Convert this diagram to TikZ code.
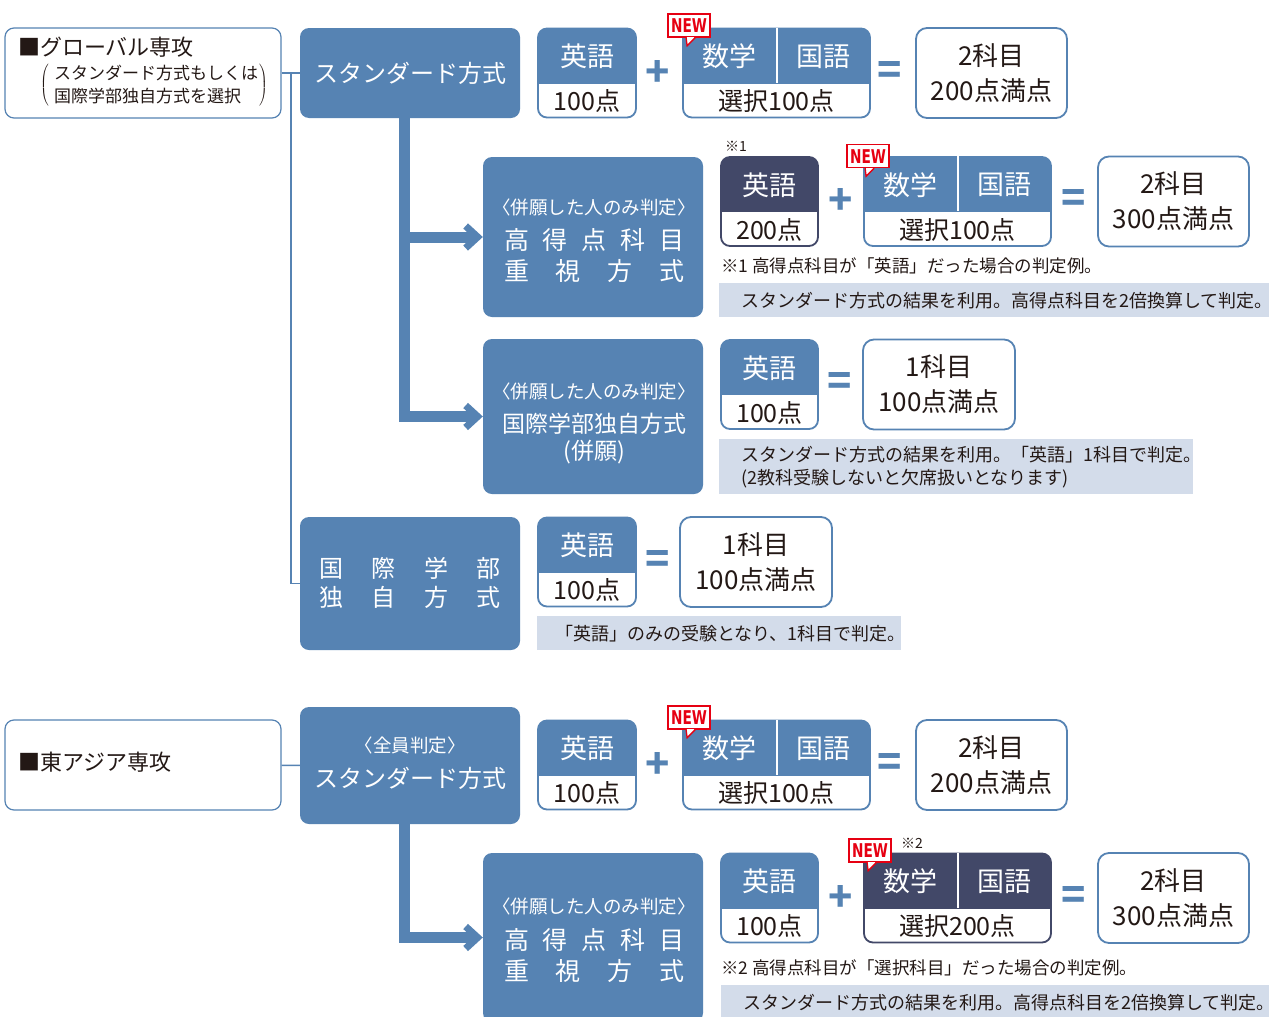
\documentclass[tikz,border=0pt]{standalone}
\usepackage{fontspec}
\usepackage{graphicx}
\setmainfont{Noto Sans CJK JP}
\newfontfamily\tagfont{DejaVu Sans Condensed}
\usetikzlibrary{arrows.meta,positioning}
\definecolor{boxblue}{HTML}{5683B3}
\definecolor{boxnavy}{HTML}{424868}
\definecolor{bandgray}{HTML}{D3DCEA}
\definecolor{inkdark}{HTML}{231815}
\definecolor{newred}{HTML}{E60012}
\begin{document}
\begin{tikzpicture}[x=1pt, y=-1pt,
        labelbox/.style={rectangle, rounded corners=9pt, draw=boxblue, line width=1.2pt, fill=white, minimum width=276pt, minimum height=90pt},
        labeltext/.style={anchor=west, inner sep=0pt, text=inkdark, font=\fontsize{22}{22}\selectfont},
        paren/.style={inner sep=0pt, text=inkdark},
        method/.style={rectangle, rounded corners=9pt, fill=boxblue, text=white, minimum width=220pt},
        tagline/.style={inner sep=0pt, text=white, font=\fontsize{18.5}{18.5}\selectfont},
        bigline/.style={inner sep=0pt, text=white, font=\fontsize{25}{25}\selectfont},
        score/.style={rectangle, rounded corners=9pt, draw=#1, line width=1.8pt, fill=white, minimum height=89pt,
          path picture={\fill[#1, sharp corners] (path picture bounding box.north west) rectangle ([yshift=-55pt]path picture bounding box.north east);}},
        subj/.style={inner sep=0pt, text=white, font=\fontsize{27}{27}\selectfont},
        pts/.style={inner sep=0pt, text=inkdark, font=\fontsize{25}{25}\selectfont},
        total/.style={rectangle, rounded corners=11pt, draw=boxblue, line width=1.8pt, fill=white, minimum width=151pt, minimum height=90pt, align=center, text=inkdark, font=\fontsize{26}{35}\selectfont},
        op/.style={inner sep=0pt, text=boxblue, font=\bfseries\fontsize{40}{40}\selectfont},
        divider/.style={draw=white, line width=2pt},
        newtag/.style={rectangle, draw=newred, line width=1.3pt, fill=white, text=newred, inner sep=0pt, minimum width=42pt, minimum height=23pt, font=\tagfont\bfseries\fontsize{19}{19}\selectfont},
        newtail/.style={draw=newred, fill=white, line width=1.3pt},
        band/.style={anchor=north west, fill=bandgray, inner xsep=22pt, inner ysep=0pt, align=left, text=inkdark, font=\fontsize{18}{23}\selectfont},
        note/.style={anchor=west, inner sep=0pt, text=inkdark, font=\fontsize{17.5}{17.5}\selectfont},
        refmark/.style={inner sep=0pt, text=inkdark, font=\fontsize{14}{14}\selectfont},
        link/.style={draw=boxblue, line width=1.5pt},
        trunk/.style={draw=boxblue, line width=11pt, -{Straight Barb[length=12pt, width=22pt, line width=7pt]}},
      ]
      \useasboundingbox (0,0) rectangle (1269,1017);
      \fill[white] (0,0) rectangle (1269,1017);

      %Nodes: global studies
      \node[labelbox] (glob) at (143,73) {};
      \node[labeltext] at (18,47) {■グローバル専攻};
      \node[paren] (lp) at (45,85) {$\left(\vrule height 19pt depth 19pt width 0pt\right.$};
      \node[labeltext, font=\fontsize{17}{23}\selectfont, align=left] (sel) at (54,85) {スタンダード方式もしくは\\国際学部独自方式を選択};
      \node[paren] (rp) at (263,85) {$\left.\vrule height 19pt depth 19pt width 0pt\right)$};

      \node[method, minimum height=90pt, font=\fontsize{24}{24}\selectfont] (std1) at (410,73) {スタンダード方式};

      \node[method, minimum height=160pt] (hi1) at (593,237) {};
      \node[tagline] at (594,207) {〈併願した人のみ判定〉};
      \node[bigline] at (594,240) {\makebox[180pt][s]{高\hfill 得\hfill 点\hfill 科\hfill 目}};
      \node[bigline] at (594,271) {\makebox[180pt][s]{重\hfill 視\hfill 方\hfill 式}};

      \node[method, minimum height=155pt] (kd1) at (593,416.5) {};
      \node[tagline] at (594,391) {〈併願した人のみ判定〉};
      \node[bigline, font=\fontsize{23}{23}\selectfont] at (594,424) {国際学部独自方式};
      \node[bigline, font=\fontsize{23}{23}\selectfont] at (594,452) {(併願)};

      \node[method, minimum height=133pt] (kk1) at (410,583.5) {};
      \node[bigline, font=\fontsize{24}{24}\selectfont] at (410,568) {\makebox[182pt][s]{国\hfill 際\hfill 学\hfill 部}};
      \node[bigline, font=\fontsize{24}{24}\selectfont] at (410,597) {\makebox[182pt][s]{独\hfill 自\hfill 方\hfill 式}};

      % row: standard
      \node[score=boxblue, minimum width=98pt] (e1) at (587,73) {};
      \node[subj] at ([yshift=-29pt]e1.north) {英語};
      \node[pts] at ([yshift=17pt]e1.south) {100点};
      \node[op] (p1) at (658,73) {+};
      \node[score=boxblue, minimum width=187pt] (m1) at (776.5,73) {};
      \draw[divider] (m1.north) -- ([yshift=-55pt]m1.north);
      \node[subj] at ([xshift=47pt,yshift=-29pt]m1.north west) {数学};
      \node[subj] at ([xshift=-47pt,yshift=-29pt]m1.north east) {国語};
      \node[pts] at ([yshift=17pt]m1.south) {選択100点};
      \node[newtag] (n1) at ([xshift=7pt,yshift=2pt]m1.north west) {\scalebox{0.8}[1]{NEW}};
      \draw[white, line width=1.5pt] ([xshift=-2pt]n1.south) -- ([xshift=5pt]n1.south);
      \filldraw[newtail] ([xshift=-3pt]n1.south) -- ++(1,8) -- ([xshift=6pt]n1.south);
      \node[op] (q1) at (890,73) {=};
      \node[total] (r1) at (991.5,73) {2科目\\200点満点};

      % row: high score (english)
      \node[refmark] at (736,146) {※1};
      \node[score=boxnavy, minimum width=97pt] (e2) at (769.5,201.5) {};
      \node[subj] at ([yshift=-29pt]e2.north) {英語};
      \node[pts] at ([yshift=17pt]e2.south) {200点};
      \node[op] (p2) at (841,201) {+};
      \node[score=boxblue, minimum width=187pt] (m2) at (957.5,201.5) {};
      \draw[divider] (m2.north) -- ([yshift=-55pt]m2.north);
      \node[subj] at ([xshift=47pt,yshift=-29pt]m2.north west) {数学};
      \node[subj] at ([xshift=-47pt,yshift=-29pt]m2.north east) {国語};
      \node[pts] at ([yshift=17pt]m2.south) {選択100点};
      \node[newtag] (n2) at ([xshift=5pt,yshift=0pt]m2.north west) {\scalebox{0.8}[1]{NEW}};
      \draw[white, line width=1.5pt] ([xshift=-2pt]n2.south) -- ([xshift=5pt]n2.south);
      \filldraw[newtail] ([xshift=-3pt]n2.south) -- ++(1,8) -- ([xshift=6pt]n2.south);
      \node[op] (q2) at (1074,201) {=};
      \node[total] (r2) at (1173.5,201.5) {2科目\\300点満点};
      \node[note] at (721,266) {※1 高得点科目が「英語」だった場合の判定例。};
      \node[band, text width=506pt, minimum height=34pt] (b1) at (719,283) {スタンダード方式の結果を利用。高得点科目を2倍換算して判定。};

      % row: own method (joint)
      \node[score=boxblue, minimum width=97pt] (e3) at (769.5,384.5) {};
      \node[subj] at ([yshift=-29pt]e3.north) {英語};
      \node[pts] at ([yshift=17pt]e3.south) {100点};
      \node[op] (q3) at (840,384) {=};
      \node[total, minimum width=152pt] (r3) at (939,384.5) {1科目\\100点満点};
      \node[band, text width=430pt, minimum height=55pt] (b2) at (719,439) {スタンダード方式の結果を利用。「英語」1科目で判定。\\(2教科受験しないと欠席扱いとなります)};

      % row: own method
      \node[score=boxblue, minimum width=98pt] (e4) at (587,562) {};
      \node[subj] at ([yshift=-29pt]e4.north) {英語};
      \node[pts] at ([yshift=17pt]e4.south) {100点};
      \node[op] (q4) at (658,562) {=};
      \node[total, minimum width=152pt] (r4) at (756,562) {1科目\\100点満点};
      \node[band, inner xsep=18pt, text width=328pt, minimum height=34pt] (b3) at (537,616) {「英語」のみの受験となり、1科目で判定。};

      %Nodes: east asian studies
      \node[labelbox] (east) at (143,765) {};
      \node[labeltext] at (18,762) {■東アジア専攻};

      \node[method, minimum height=117pt] (std2) at (410,765.5) {};
      \node[tagline] at (410,745) {〈全員判定〉};
      \node[bigline, font=\fontsize{24}{24}\selectfont] at (410,778) {スタンダード方式};

      \node[method, minimum height=169pt] (hi2) at (593,937.5) {};
      \node[tagline] at (594,906) {〈併願した人のみ判定〉};
      \node[bigline] at (594,940) {\makebox[180pt][s]{高\hfill 得\hfill 点\hfill 科\hfill 目}};
      \node[bigline] at (594,971) {\makebox[180pt][s]{重\hfill 視\hfill 方\hfill 式}};

      % row: standard
      \node[score=boxblue, minimum width=98pt] (e5) at (587,765) {};
      \node[subj] at ([yshift=-29pt]e5.north) {英語};
      \node[pts] at ([yshift=17pt]e5.south) {100点};
      \node[op] (p5) at (658,765) {+};
      \node[score=boxblue, minimum width=187pt] (m5) at (776.5,765) {};
      \draw[divider] (m5.north) -- ([yshift=-55pt]m5.north);
      \node[subj] at ([xshift=47pt,yshift=-29pt]m5.north west) {数学};
      \node[subj] at ([xshift=-47pt,yshift=-29pt]m5.north east) {国語};
      \node[pts] at ([yshift=17pt]m5.south) {選択100点};
      \node[newtag] (n5) at ([xshift=7pt,yshift=2pt]m5.north west) {\scalebox{0.8}[1]{NEW}};
      \draw[white, line width=1.5pt] ([xshift=-2pt]n5.south) -- ([xshift=5pt]n5.south);
      \filldraw[newtail] ([xshift=-3pt]n5.south) -- ++(1,8) -- ([xshift=6pt]n5.south);
      \node[op] (q5) at (890,765) {=};
      \node[total] (r5) at (991.5,765) {2科目\\200点満点};

      % row: high score (elective)
      \node[score=boxblue, minimum width=97pt] (e6) at (769.5,898) {};
      \node[subj] at ([yshift=-29pt]e6.north) {英語};
      \node[pts] at ([yshift=17pt]e6.south) {100点};
      \node[op] (p6) at (841,898) {+};
      \node[score=boxnavy, minimum width=187pt] (m6) at (957.5,898) {};
      \draw[divider] (m6.north) -- ([yshift=-55pt]m6.north);
      \node[subj] at ([xshift=47pt,yshift=-29pt]m6.north west) {数学};
      \node[subj] at ([xshift=-47pt,yshift=-29pt]m6.north east) {国語};
      \node[pts] at ([yshift=17pt]m6.south) {選択200点};
      \node[newtag] (n6) at ([xshift=7pt,yshift=2pt]m6.north west) {\scalebox{0.8}[1]{NEW}};
      \draw[white, line width=1.5pt] ([xshift=-2pt]n6.south) -- ([xshift=5pt]n6.south);
      \filldraw[newtail] ([xshift=-3pt]n6.south) -- ++(1,8) -- ([xshift=6pt]n6.south);
      \node[refmark] at (912,843) {※2};
      \node[op] (q6) at (1074,898) {=};
      \node[total] (r6) at (1173.5,898) {2科目\\300点満点};
      \node[note] at (721,968) {※2 高得点科目が「選択科目」だった場合の判定例。};
      \node[band, text width=504pt, minimum height=34pt] (b4) at (721,985) {スタンダード方式の結果を利用。高得点科目を2倍換算して判定。};

      %Lines
      \coordinate (j1) at (291,73);
      \draw[link] (glob) -- (std1);
      \draw[link] (j1) |- (kk1.west);
      \draw[link] (east) -- (std2);

      \coordinate (t1) at ([xshift=-6pt,yshift=1pt]std1.south);
      \coordinate (t2) at ([xshift=-6pt,yshift=1pt]std2.south);
      \draw[trunk] (t1) |- (hi1.west);
      \draw[trunk] (t1) |- (kd1.west);
      \draw[trunk] (t2) |- (hi2.west);
    \end{tikzpicture}
\end{document}
